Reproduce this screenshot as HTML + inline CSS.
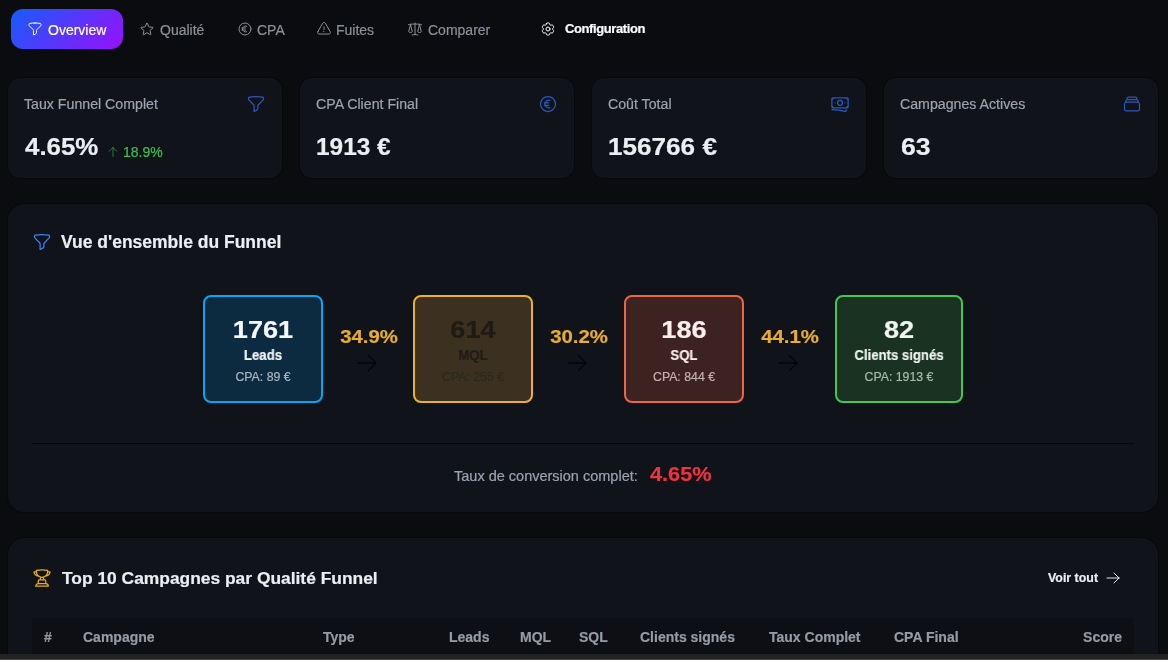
<!DOCTYPE html>
<html><head><meta charset="utf-8"><title>Funnel Overview</title>
<style>
html,body{margin:0;padding:0;}
body{width:1168px;height:660px;overflow:hidden;background:#0b0c10;font-family:"Liberation Sans", sans-serif;position:relative;}
.t{position:absolute;white-space:nowrap;-webkit-text-stroke:0.2px currentColor;will-change:transform;}
.r{position:absolute;}
</style></head><body>
<div class="r" style="left:11px;top:9px;width:112px;height:40px;border-radius:12px;background:linear-gradient(135deg,#155dfc,#9810fa);"></div>
<svg class="r" style="left:27.1px;top:20.7px" width="16" height="16" viewBox="0 0 24 24" fill="none" stroke="#fff" stroke-width="1.5" stroke-linecap="round" stroke-linejoin="round"><path d="M12 3c2.755 0 5.455.232 8.083.678.533.09.917.556.917 1.096v1.044a2.25 2.25 0 0 1-.659 1.591l-5.432 5.432a2.25 2.25 0 0 0-.659 1.591v2.927a2.25 2.25 0 0 1-1.244 2.013L9.75 21v-6.568a2.25 2.25 0 0 0-.659-1.591L3.659 7.409A2.25 2.25 0 0 1 3 5.818V4.774c0-.54.384-1.006.917-1.096A48.32 48.32 0 0 1 12 3Z"/></svg>
<div class="t" style="top:22.95px;font-size:14px;line-height:14px;font-weight:400;color:#fff;left:47.60px;">Overview</div>
<svg class="r" style="left:138.85px;top:20.7px" width="16" height="16" viewBox="0 0 24 24" fill="none" stroke="#8d9096" stroke-width="1.5" stroke-linecap="round" stroke-linejoin="round"><path d="M11.48 3.499a.562.562 0 0 1 1.04 0l2.125 5.111a.563.563 0 0 0 .475.345l5.518.442c.499.04.701.663.321.988l-4.204 3.602a.563.563 0 0 0-.182.557l1.285 5.385a.562.562 0 0 1-.84.61l-4.725-2.885a.562.562 0 0 0-.586 0L6.982 20.54a.562.562 0 0 1-.84-.61l1.285-5.386a.562.562 0 0 0-.182-.557l-4.204-3.602a.562.562 0 0 1 .321-.988l5.518-.442a.563.563 0 0 0 .475-.345L11.48 3.5Z"/></svg>
<div class="t" style="top:23.05px;font-size:14px;line-height:14px;font-weight:400;color:#8d9096;left:159.90px;">Qualité</div>
<svg class="r" style="left:236.9px;top:20.8px" width="16" height="16" viewBox="0 0 24 24" fill="none" stroke="#8d9096" stroke-width="1.5" stroke-linecap="round" stroke-linejoin="round"><path d="M14.25 7.756a4.5 4.5 0 1 0 0 8.488M7.5 10.5h5.25m-5.25 3h5.25M21 12a9 9 0 1 1-18 0 9 9 0 0 1 18 0Z"/></svg>
<div class="t" style="top:23.05px;font-size:14px;line-height:14px;font-weight:400;color:#8d9096;left:257.00px;">CPA</div>
<svg class="r" style="left:316px;top:20.85px" width="16" height="16" viewBox="0 0 24 24" fill="none" stroke="#8d9096" stroke-width="1.5" stroke-linecap="round" stroke-linejoin="round"><path d="M12 9v3.75m-9.303 3.376c-.866 1.5.217 3.374 1.948 3.374h14.71c1.73 0 2.813-1.874 1.948-3.374L13.949 3.378c-.866-1.5-3.032-1.5-3.898 0L2.697 16.126ZM12 15.75h.007v.008H12v-.008Z"/></svg>
<div class="t" style="top:23.05px;font-size:14px;line-height:14px;font-weight:400;color:#8d9096;left:336.40px;">Fuites</div>
<svg class="r" style="left:406.9px;top:21.1px" width="16" height="16" viewBox="0 0 24 24" fill="none" stroke="#8d9096" stroke-width="1.5" stroke-linecap="round" stroke-linejoin="round"><path d="M12 3v17.25m0 0c-1.472 0-2.882.265-4.185.75M12 20.25c1.472 0 2.882.265 4.185.75M18.75 4.97A48.416 48.416 0 0 0 12 4.5c-2.291 0-4.545.16-6.75.47m13.5 0c1.01.143 2.01.317 3 .52m-3-.52 2.62 10.726c.122.499-.106 1.028-.589 1.202a5.988 5.988 0 0 1-2.031.352 5.988 5.988 0 0 1-2.031-.352c-.483-.174-.711-.703-.59-1.202L18.75 4.971Zm-16.5.52c.99-.203 1.99-.377 3-.52m0 0 2.62 10.726c.122.499-.106 1.028-.589 1.202a5.989 5.989 0 0 1-2.031.352 5.989 5.989 0 0 1-2.031-.352c-.483-.174-.711-.703-.59-1.202L5.25 4.971Z"/></svg>
<div class="t" style="top:23.05px;font-size:14px;line-height:14px;font-weight:400;color:#8d9096;left:427.80px;">Comparer</div>
<svg class="r" style="left:539.85px;top:20.8px" width="16" height="16" viewBox="0 0 24 24" fill="none" stroke="#fff" stroke-width="1.5" stroke-linecap="round" stroke-linejoin="round"><path d="M9.594 3.94c.09-.542.56-.94 1.11-.94h2.593c.55 0 1.02.398 1.11.94l.213 1.281c.063.374.313.686.645.87.074.04.147.083.22.127.325.196.72.257 1.075.124l1.217-.456a1.125 1.125 0 0 1 1.37.49l1.296 2.247a1.125 1.125 0 0 1-.26 1.431l-1.003.827c-.293.241-.438.613-.43.992a7.723 7.723 0 0 1 0 .255c-.008.378.137.75.43.991l1.004.827c.424.35.534.955.26 1.43l-1.298 2.247a1.125 1.125 0 0 1-1.369.491l-1.217-.456c-.355-.133-.75-.072-1.076.124a6.47 6.47 0 0 1-.22.128c-.331.183-.581.495-.644.869l-.213 1.281c-.09.543-.56.94-1.11.94h-2.594c-.55 0-1.019-.398-1.11-.94l-.213-1.281c-.062-.374-.312-.686-.644-.87a6.52 6.52 0 0 1-.22-.127c-.325-.196-.72-.257-1.076-.124l-1.217.456a1.125 1.125 0 0 1-1.369-.49l-1.297-2.247a1.125 1.125 0 0 1 .26-1.431l1.004-.827c.292-.24.437-.613.43-.991a6.932 6.932 0 0 1 0-.255c.007-.38-.138-.751-.43-.992l-1.004-.827a1.125 1.125 0 0 1-.26-1.43l1.297-2.247a1.125 1.125 0 0 1 1.37-.491l1.216.456c.356.133.751.072 1.076-.124.072-.044.146-.086.22-.128.332-.183.582-.495.644-.869l.214-1.28Z"/><path d="M15 12a3 3 0 1 1-6 0 3 3 0 0 1 6 0Z"/></svg>
<div class="t" style="top:21.80px;font-size:13px;line-height:13px;font-weight:700;color:#fff;letter-spacing:-0.4px;left:564.70px;">Configuration</div>
<div class="r" style="left:8px;top:77.5px;width:274px;height:100px;border-radius:12px;background:#10131a;box-shadow:0 0 0 1px #07080b;"></div>
<div class="t" style="top:96.95px;font-size:14px;line-height:14px;font-weight:400;color:#9ca3af;left:24.20px;transform:scaleX(1.012);transform-origin:0 0;">Taux Funnel Complet</div>
<div class="t" style="top:135.28px;font-size:24px;line-height:24px;font-weight:700;color:#eceef2;left:24.90px;transform:scaleX(1.078);transform-origin:0 0;">4.65%</div>
<svg class="r" style="left:245.9px;top:94px" width="20" height="20" viewBox="0 0 24 24" fill="none" stroke="#2a58b8" stroke-width="1.5" stroke-linecap="round" stroke-linejoin="round"><path d="M12 3c2.755 0 5.455.232 8.083.678.533.09.917.556.917 1.096v1.044a2.25 2.25 0 0 1-.659 1.591l-5.432 5.432a2.25 2.25 0 0 0-.659 1.591v2.927a2.25 2.25 0 0 1-1.244 2.013L9.75 21v-6.568a2.25 2.25 0 0 0-.659-1.591L3.659 7.409A2.25 2.25 0 0 1 3 5.818V4.774c0-.54.384-1.006.917-1.096A48.32 48.32 0 0 1 12 3Z"/></svg>
<div class="r" style="left:300px;top:77.5px;width:274px;height:100px;border-radius:12px;background:#10131a;box-shadow:0 0 0 1px #07080b;"></div>
<div class="t" style="top:96.95px;font-size:14px;line-height:14px;font-weight:400;color:#9ca3af;left:316.20px;transform:scaleX(1.012);transform-origin:0 0;">CPA Client Final</div>
<div class="t" style="top:135.28px;font-size:24px;line-height:24px;font-weight:700;color:#eceef2;left:315.90px;transform:scaleX(1.017);transform-origin:0 0;">1913 €</div>
<svg class="r" style="left:537.9px;top:94px" width="20" height="20" viewBox="0 0 24 24" fill="none" stroke="#2a58b8" stroke-width="1.5" stroke-linecap="round" stroke-linejoin="round"><path d="M14.25 7.756a4.5 4.5 0 1 0 0 8.488M7.5 10.5h5.25m-5.25 3h5.25M21 12a9 9 0 1 1-18 0 9 9 0 0 1 18 0Z"/></svg>
<div class="r" style="left:592px;top:77.5px;width:274px;height:100px;border-radius:12px;background:#10131a;box-shadow:0 0 0 1px #07080b;"></div>
<div class="t" style="top:96.95px;font-size:14px;line-height:14px;font-weight:400;color:#9ca3af;left:608.20px;transform:scaleX(1.012);transform-origin:0 0;">Coût Total</div>
<div class="t" style="top:135.28px;font-size:24px;line-height:24px;font-weight:700;color:#eceef2;left:607.90px;transform:scaleX(1.088);transform-origin:0 0;">156766 €</div>
<svg class="r" style="left:829.9px;top:94px" width="20" height="20" viewBox="0 0 24 24" fill="none" stroke="#2a58b8" stroke-width="1.5" stroke-linecap="round" stroke-linejoin="round"><path d="M2.25 18.75a60.07 60.07 0 0 1 15.797 2.101c.727.198 1.453-.342 1.453-1.096V18.75M3.75 4.5v.75A.75.75 0 0 1 3 6h-.75m0 0v-.375c0-.621.504-1.125 1.125-1.125H20.25M2.25 6v9m18-10.5v.75c0 .414.336.75.75.75h.75m-1.5-1.5h.375c.621 0 1.125.504 1.125 1.125v9.75c0 .621-.504 1.125-1.125 1.125h-.375m1.5-1.5H21a.75.75 0 0 0-.75.75v.75m0 0H3.75m0 0h-.375a1.125 1.125 0 0 1-1.125-1.125V15m1.5 1.5v-.75A.75.75 0 0 0 3 15h-.75M15 10.5a3 3 0 1 1-6 0 3 3 0 0 1 6 0Zm3 0h.008v.008H18V10.5Zm-12 0h.008v.008H6V10.5Z"/></svg>
<div class="r" style="left:884px;top:77.5px;width:274px;height:100px;border-radius:12px;background:#10131a;box-shadow:0 0 0 1px #07080b;"></div>
<div class="t" style="top:96.95px;font-size:14px;line-height:14px;font-weight:400;color:#9ca3af;left:900.20px;transform:scaleX(1.012);transform-origin:0 0;">Campagnes Actives</div>
<div class="t" style="top:135.28px;font-size:24px;line-height:24px;font-weight:700;color:#eceef2;left:900.90px;transform:scaleX(1.108);transform-origin:0 0;">63</div>
<svg class="r" style="left:1121.9px;top:94px" width="20" height="20" viewBox="0 0 24 24" fill="none" stroke="#2a58b8" stroke-width="1.5" stroke-linecap="round" stroke-linejoin="round"><path d="M6 6.878V6a2.25 2.25 0 0 1 2.25-2.25h7.5A2.25 2.25 0 0 1 18 6v.878m-12 0c.235-.083.487-.128.75-.128h10.5c.263 0 .515.045.75.128m-12 0A2.25 2.25 0 0 0 4.5 9v.878m13.5-3A2.25 2.25 0 0 1 19.5 9v.878m0 0a2.246 2.246 0 0 0-.75-.128H5.25c-.263 0-.515.045-.75.128m15 0A2.25 2.25 0 0 1 21 12v6a2.25 2.25 0 0 1-2.25 2.25H5.25A2.25 2.25 0 0 1 3 18v-6c0-.98.626-1.813 1.5-2.122"/></svg>
<svg class="r" style="left:107.15px;top:145.55px" width="12" height="12" viewBox="0 0 24 24" fill="none" stroke="#2f9e3f" stroke-width="1.5" stroke-linecap="round" stroke-linejoin="round"><path d="M4.5 10.5 12 3m0 0 7.5 7.5M12 3v18"/></svg>
<div class="t" style="top:144.55px;font-size:14px;line-height:14px;font-weight:400;color:#3fbf50;left:123.00px;">18.9%</div>
<div class="r" style="left:8px;top:203.5px;width:1150px;height:308px;border-radius:16px;background:#10131a;box-shadow:0 0 0 1px #07080b;"></div>
<svg class="r" style="left:32px;top:231.9px" width="20" height="20" viewBox="0 0 24 24" fill="none" stroke="#3b82f6" stroke-width="1.5" stroke-linecap="round" stroke-linejoin="round"><path d="M12 3c2.755 0 5.455.232 8.083.678.533.09.917.556.917 1.096v1.044a2.25 2.25 0 0 1-.659 1.591l-5.432 5.432a2.25 2.25 0 0 0-.659 1.591v2.927a2.25 2.25 0 0 1-1.244 2.013L9.75 21v-6.568a2.25 2.25 0 0 0-.659-1.591L3.659 7.409A2.25 2.25 0 0 1 3 5.818V4.774c0-.54.384-1.006.917-1.096A48.32 48.32 0 0 1 12 3Z"/></svg>
<div class="t" style="top:233.69px;font-size:17.5px;line-height:17.5px;font-weight:700;color:#eceef2;left:60.70px;">Vue d'ensemble du Funnel</div>
<div class="r" style="left:203px;top:295px;width:116px;height:104px;border:2px solid #05a6f5;background:#0c2a40;border-radius:8px;"></div>
<div class="t" style="top:317.98px;font-size:24px;line-height:24px;font-weight:700;color:#f4f8fb;left:-137.00px;width:800px;text-align:center;transform:scaleX(1.13);transform-origin:50% 0;">1761</div>
<div class="t" style="top:348.05px;font-size:14px;line-height:14px;font-weight:700;color:#f4f8fb;left:-137.00px;width:800px;text-align:center;transform:scaleX(0.94);transform-origin:50% 0;">Leads</div>
<div class="t" style="top:370.89px;font-size:12.3px;line-height:12.3px;font-weight:400;color:#aab6c1;left:-137.00px;width:800px;text-align:center;">CPA: 89 €</div>
<div class="r" style="left:413px;top:295px;width:116px;height:104px;border:2px solid #eeb028;background:#3c3120;border-radius:8px;"></div>
<div class="t" style="top:317.98px;font-size:24px;line-height:24px;font-weight:700;color:#1f1b14;left:73.00px;width:800px;text-align:center;transform:scaleX(1.13);transform-origin:50% 0;">614</div>
<div class="t" style="top:348.05px;font-size:14px;line-height:14px;font-weight:700;color:#211d16;left:73.00px;width:800px;text-align:center;transform:scaleX(0.94);transform-origin:50% 0;">MQL</div>
<div class="t" style="top:370.89px;font-size:12.3px;line-height:12.3px;font-weight:400;color:#2d291f;left:73.00px;width:800px;text-align:center;">CPA: 255 €</div>
<div class="r" style="left:624px;top:295px;width:116px;height:104px;border:2px solid #ee6544;background:#3d2222;border-radius:8px;"></div>
<div class="t" style="top:317.98px;font-size:24px;line-height:24px;font-weight:700;color:#fbeeea;left:284.00px;width:800px;text-align:center;transform:scaleX(1.13);transform-origin:50% 0;">186</div>
<div class="t" style="top:348.05px;font-size:14px;line-height:14px;font-weight:700;color:#fbeeea;left:284.00px;width:800px;text-align:center;transform:scaleX(0.94);transform-origin:50% 0;">SQL</div>
<div class="t" style="top:370.89px;font-size:12.3px;line-height:12.3px;font-weight:400;color:#c5b1ad;left:284.00px;width:800px;text-align:center;">CPA: 844 €</div>
<div class="r" style="left:835px;top:295px;width:124px;height:104px;border:2px solid #44c853;background:#1a3222;border-radius:8px;"></div>
<div class="t" style="top:317.98px;font-size:24px;line-height:24px;font-weight:700;color:#eef6ee;left:499.00px;width:800px;text-align:center;transform:scaleX(1.13);transform-origin:50% 0;">82</div>
<div class="t" style="top:348.05px;font-size:14px;line-height:14px;font-weight:700;color:#eef6ee;left:499.00px;width:800px;text-align:center;transform:scaleX(0.94);transform-origin:50% 0;">Clients signés</div>
<div class="t" style="top:370.89px;font-size:12.3px;line-height:12.3px;font-weight:400;color:#aabcaa;left:499.00px;width:800px;text-align:center;">CPA: 1913 €</div>
<div class="t" style="top:327.64px;font-size:18.5px;line-height:18.5px;font-weight:700;color:#e8ad2e;left:-31.50px;width:800px;text-align:center;transform:scaleX(1.1);transform-origin:50% 0;">34.9%</div>
<svg class="r" style="left:355.0px;top:351px" width="24" height="24" viewBox="0 0 24 24" fill="none" stroke="#050608" stroke-width="1.5" stroke-linecap="round" stroke-linejoin="round"><path d="M13.5 4.5 21 12m0 0-7.5 7.5M21 12H3"/></svg>
<div class="t" style="top:327.64px;font-size:18.5px;line-height:18.5px;font-weight:700;color:#e8ad2e;left:178.50px;width:800px;text-align:center;transform:scaleX(1.1);transform-origin:50% 0;">30.2%</div>
<svg class="r" style="left:565.0px;top:351px" width="24" height="24" viewBox="0 0 24 24" fill="none" stroke="#050608" stroke-width="1.5" stroke-linecap="round" stroke-linejoin="round"><path d="M13.5 4.5 21 12m0 0-7.5 7.5M21 12H3"/></svg>
<div class="t" style="top:327.64px;font-size:18.5px;line-height:18.5px;font-weight:700;color:#e8ad2e;left:389.50px;width:800px;text-align:center;transform:scaleX(1.1);transform-origin:50% 0;">44.1%</div>
<svg class="r" style="left:776.0px;top:351px" width="24" height="24" viewBox="0 0 24 24" fill="none" stroke="#050608" stroke-width="1.5" stroke-linecap="round" stroke-linejoin="round"><path d="M13.5 4.5 21 12m0 0-7.5 7.5M21 12H3"/></svg>
<div class="r" style="left:32px;top:443px;width:1102px;height:1px;background:#07080b;"></div>
<div class="t" style="top:468.63px;font-size:14.5px;line-height:14.5px;font-weight:400;color:#9ca3af;left:454.40px;">Taux de conversion complet:</div>
<div class="t" style="top:464.07px;font-size:20px;line-height:20px;font-weight:700;color:#f0323f;left:650.40px;transform:scaleX(1.086);transform-origin:0 0;">4.65%</div>
<div class="r" style="left:8px;top:538px;width:1150px;height:160px;border-radius:16px;background:#10131a;box-shadow:0 0 0 1px #07080b;"></div>
<svg class="r" style="left:32px;top:568px" width="20" height="20" viewBox="0 0 24 24" fill="none" stroke="#e8ac25" stroke-width="1.5" stroke-linecap="round" stroke-linejoin="round"><path d="M16.5 18.75h-9m9 0a3 3 0 0 1 3 3h-15a3 3 0 0 1 3-3m9 0v-3.375c0-.621-.503-1.125-1.125-1.125h-.871M7.5 18.75v-3.375c0-.621.504-1.125 1.125-1.125h.872m5.007 0H9.497m5.007 0a7.454 7.454 0 0 1-.982-3.172M9.497 14.25a7.454 7.454 0 0 0 .981-3.172M5.25 4.236c-.982.143-1.954.317-2.916.52A6.003 6.003 0 0 0 7.73 9.728M5.25 4.236V4.5c0 2.108.966 3.99 2.48 5.228M5.25 4.236V2.721C7.456 2.41 9.71 2.25 12 2.25c2.291 0 4.545.16 6.75.47v1.516M7.73 9.728a6.726 6.726 0 0 0 2.748 1.35m8.272-6.842V4.5c0 2.108-.966 3.99-2.48 5.228m2.48-5.492a46.32 46.32 0 0 1 2.916.52 6.003 6.003 0 0 1-5.395 4.972m0 0a6.72 6.72 0 0 1-2.749 1.35m0 0a6.772 6.772 0 0 1-3.044 0"/></svg>
<div class="t" style="top:569.67px;font-size:17.4px;line-height:17.4px;font-weight:700;color:#eceef2;left:62.00px;">Top 10 Campagnes par Qualité Funnel</div>
<div class="t" style="top:572.20px;font-size:12.4px;line-height:12.4px;font-weight:700;color:#eceef2;left:1048.40px;">Voir tout</div>
<svg class="r" style="left:1104.9px;top:569.9px" width="16" height="16" viewBox="0 0 24 24" fill="none" stroke="#e5e7eb" stroke-width="1.5" stroke-linecap="round" stroke-linejoin="round"><path d="M13.5 4.5 21 12m0 0-7.5 7.5M21 12H3"/></svg>
<div class="r" style="left:32px;top:617.7px;width:1102px;height:60px;background:#0d0f14;"></div>
<div class="t" style="top:630.15px;font-size:14px;line-height:14px;font-weight:700;color:#969ba3;left:44.00px;">#</div>
<div class="t" style="top:630.15px;font-size:14px;line-height:14px;font-weight:700;color:#969ba3;left:82.70px;">Campagne</div>
<div class="t" style="top:630.15px;font-size:14px;line-height:14px;font-weight:700;color:#969ba3;left:322.60px;">Type</div>
<div class="t" style="top:630.15px;font-size:14px;line-height:14px;font-weight:700;color:#969ba3;left:448.80px;">Leads</div>
<div class="t" style="top:630.15px;font-size:14px;line-height:14px;font-weight:700;color:#969ba3;left:519.60px;">MQL</div>
<div class="t" style="top:630.15px;font-size:14px;line-height:14px;font-weight:700;color:#969ba3;left:578.70px;">SQL</div>
<div class="t" style="top:630.15px;font-size:14px;line-height:14px;font-weight:700;color:#969ba3;left:639.70px;">Clients signés</div>
<div class="t" style="top:630.15px;font-size:14px;line-height:14px;font-weight:700;color:#969ba3;left:769.30px;">Taux Complet</div>
<div class="t" style="top:630.15px;font-size:14px;line-height:14px;font-weight:700;color:#969ba3;left:893.60px;">CPA Final</div>
<div class="t" style="top:630.15px;font-size:14px;line-height:14px;font-weight:700;color:#969ba3;left:321.70px;width:800px;text-align:right;">Score</div>
<div class="r" style="left:0px;top:654px;width:1168px;height:6px;background:#222222;"></div>
<div class="r" style="left:0px;top:658.6px;width:1168px;height:2px;background:#444444;"></div>
</body></html>
